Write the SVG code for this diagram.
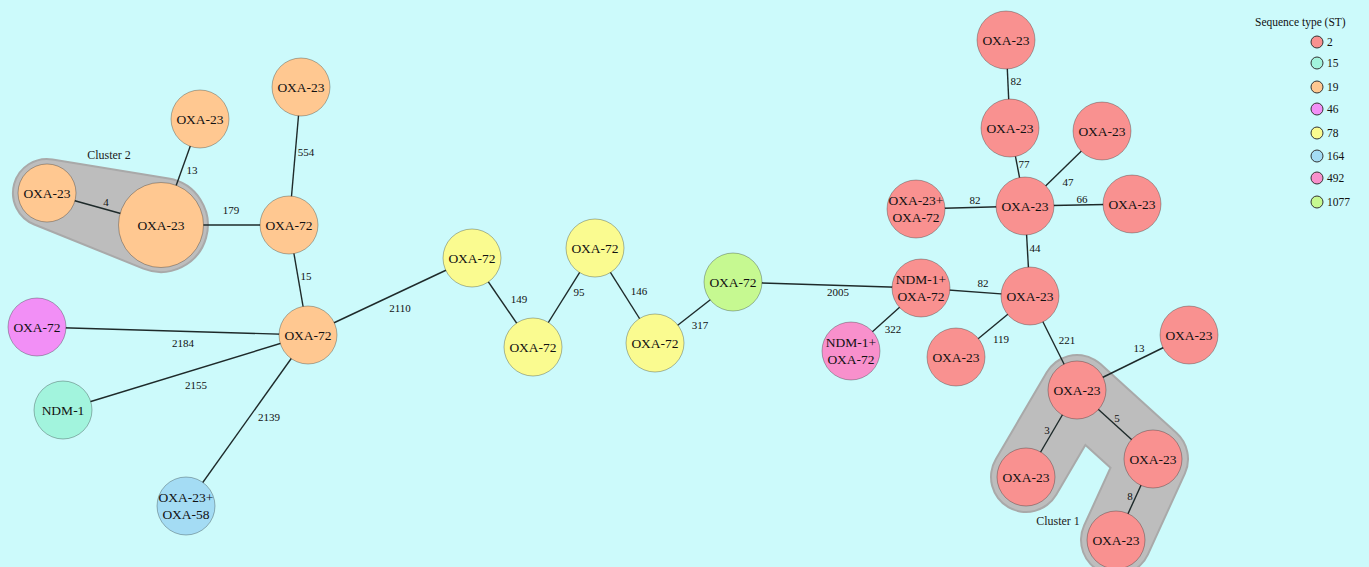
<svg xmlns="http://www.w3.org/2000/svg" width="1369" height="567" viewBox="0 0 1369 567">
<style>
  .bg{fill:#ccfafb}
  .hull{fill:#bdbdbd;stroke:#a9a9a9;stroke-width:2}
  .edge{stroke:#1e2a2a;stroke-width:1.4;fill:none}
  .n{stroke:#000;stroke-opacity:.28;stroke-width:1}
  .st2{fill:#f99190}
  .st15{fill:#a2f4dd}
  .st19{fill:#ffc891}
  .st46{fill:#f28ff6}
  .st78{fill:#fafb90}
  .st164{fill:#a4dcf4}
  .st492{fill:#f890cc}
  .st1077{fill:#c6f991}
  .lbl{font-family:"Liberation Serif","Times New Roman",serif;font-size:13.5px;fill:#111;text-anchor:middle}
  .w{font-family:"Liberation Serif","Times New Roman",serif;font-size:11px;fill:#111;text-anchor:middle}
  .cl{font-family:"Liberation Serif","Times New Roman",serif;font-size:12px;fill:#222;text-anchor:middle}
  .lg{font-family:"Liberation Serif","Times New Roman",serif;font-size:11.5px;fill:#111}
  .lc{stroke:#333;stroke-width:1}
</style>
<rect class="bg" x="0" y="0" width="1369" height="567"/>

<!-- cluster outlines -->
<g id="cluster2">
  <path class="hull" d="M52.5,159.4 L168.6,178.6 A47,47 0 1 1 143.4,268.6 L34.3,224.5 A34,34 0 0 1 52.5,159.4 Z"/>
  <text class="cl" x="109" y="159">Cluster 2</text>
</g>
<g id="cluster1">
  <polyline points="1026,477 1077,390 1153,459 1116,540" fill="none" stroke="#a9a9a9" stroke-width="72" stroke-linejoin="round" stroke-linecap="round"/>
  <polyline points="1026,477 1077,390 1153,459 1116,540" fill="none" stroke="#bdbdbd" stroke-width="68" stroke-linejoin="round" stroke-linecap="round"/>
  <text class="cl" x="1058" y="525">Cluster 1</text>
</g>

<!-- connectors with distance labels -->
<g id="edges">
  <line class="edge" x1="200" y1="119" x2="162" y2="225"/><text class="w" x="192" y="174">13</text>
  <line class="edge" x1="47" y1="193" x2="162" y2="225"/><text class="w" x="106" y="206">4</text>
  <line class="edge" x1="162" y1="225" x2="289" y2="225"/><text class="w" x="231" y="214">179</text>
  <line class="edge" x1="301" y1="87" x2="289" y2="225"/><text class="w" x="306" y="156">554</text>
  <line class="edge" x1="289" y1="225" x2="308" y2="335"/><text class="w" x="306" y="280">15</text>
  <line class="edge" x1="308" y1="335" x2="472" y2="258"/><text class="w" x="400" y="312">2110</text>
  <line class="edge" x1="37" y1="327" x2="308" y2="335"/><text class="w" x="183" y="347">2184</text>
  <line class="edge" x1="63" y1="410" x2="308" y2="335"/><text class="w" x="196" y="389">2155</text>
  <line class="edge" x1="186" y1="506" x2="308" y2="335"/><text class="w" x="269" y="421">2139</text>
  <line class="edge" x1="472" y1="258" x2="533" y2="347"/><text class="w" x="519" y="303">149</text>
  <line class="edge" x1="533" y1="347" x2="595" y2="248"/><text class="w" x="579" y="296">95</text>
  <line class="edge" x1="595" y1="248" x2="655" y2="343"/><text class="w" x="639" y="295">146</text>
  <line class="edge" x1="655" y1="343" x2="733" y2="282"/><text class="w" x="700" y="329">317</text>
  <line class="edge" x1="733" y1="282" x2="921" y2="288"/><text class="w" x="838" y="296">2005</text>
  <line class="edge" x1="921" y1="288" x2="851" y2="351"/><text class="w" x="893" y="333">322</text>
  <line class="edge" x1="921" y1="288" x2="1030" y2="296"/><text class="w" x="983" y="287">82</text>
  <line class="edge" x1="916" y1="209" x2="1025" y2="206"/><text class="w" x="975" y="204">82</text>
  <line class="edge" x1="1006" y1="40" x2="1010" y2="128"/><text class="w" x="1016" y="85">82</text>
  <line class="edge" x1="1010" y1="128" x2="1025" y2="206"/><text class="w" x="1024" y="168">77</text>
  <line class="edge" x1="1102" y1="131" x2="1025" y2="206"/><text class="w" x="1068" y="186">47</text>
  <line class="edge" x1="1025" y1="206" x2="1132" y2="204"/><text class="w" x="1082" y="203">66</text>
  <line class="edge" x1="1025" y1="206" x2="1030" y2="296"/><text class="w" x="1035" y="252">44</text>
  <line class="edge" x1="1030" y1="296" x2="956" y2="357"/><text class="w" x="1001" y="343">119</text>
  <line class="edge" x1="1030" y1="296" x2="1077" y2="390"/><text class="w" x="1067" y="344">221</text>
  <line class="edge" x1="1077" y1="390" x2="1189" y2="335"/><text class="w" x="1139" y="352">13</text>
  <line class="edge" x1="1077" y1="390" x2="1026" y2="477"/><text class="w" x="1047" y="434">3</text>
  <line class="edge" x1="1077" y1="390" x2="1153" y2="459"/><text class="w" x="1117" y="422">5</text>
  <line class="edge" x1="1153" y1="459" x2="1116" y2="540"/><text class="w" x="1130" y="500">8</text>
</g>

<!-- ST19 -->
<g id="n1"><circle class="n st19" cx="200" cy="119" r="29"/><text class="lbl" x="200" y="124">OXA-23</text></g>
<g id="n2"><circle class="n st19" cx="301" cy="87" r="29"/><text class="lbl" x="301" y="92">OXA-23</text></g>
<g id="n3"><circle class="n st19" cx="47" cy="193" r="29"/><text class="lbl" x="47" y="198">OXA-23</text></g>
<g id="n4"><circle class="n st19" cx="161" cy="225" r="42.5"/><text class="lbl" x="161" y="230">OXA-23</text></g>
<g id="n5"><circle class="n st19" cx="289" cy="225" r="29"/><text class="lbl" x="289" y="230">OXA-72</text></g>
<g id="n6"><circle class="n st19" cx="308" cy="335" r="29"/><text class="lbl" x="308" y="340">OXA-72</text></g>
<!-- ST46, ST15, ST164 -->
<g id="n7"><circle class="n st46" cx="37" cy="327" r="29"/><text class="lbl" x="37" y="332">OXA-72</text></g>
<g id="n8"><circle class="n st15" cx="63" cy="410" r="29"/><text class="lbl" x="63" y="415">NDM-1</text></g>
<g id="n9"><circle class="n st164" cx="186" cy="506" r="29"/><text class="lbl" x="186" y="502">OXA-23+</text><text class="lbl" x="186" y="519">OXA-58</text></g>
<!-- ST78 -->
<g id="n10"><circle class="n st78" cx="472" cy="258" r="29"/><text class="lbl" x="472" y="263">OXA-72</text></g>
<g id="n11"><circle class="n st78" cx="533" cy="347" r="29"/><text class="lbl" x="533" y="352">OXA-72</text></g>
<g id="n12"><circle class="n st78" cx="595" cy="248" r="29"/><text class="lbl" x="595" y="253">OXA-72</text></g>
<g id="n13"><circle class="n st78" cx="655" cy="343" r="29"/><text class="lbl" x="655" y="348">OXA-72</text></g>
<!-- ST1077, ST492 -->
<g id="n14"><circle class="n st1077" cx="733" cy="282" r="29"/><text class="lbl" x="733" y="287">OXA-72</text></g>
<g id="n15"><circle class="n st492" cx="851" cy="351" r="29"/><text class="lbl" x="851" y="347">NDM-1+</text><text class="lbl" x="851" y="364">OXA-72</text></g>
<!-- ST2 -->
<g id="n16"><circle class="n st2" cx="921" cy="288" r="29"/><text class="lbl" x="921" y="284">NDM-1+</text><text class="lbl" x="921" y="301">OXA-72</text></g>
<g id="n17"><circle class="n st2" cx="1006" cy="40" r="29"/><text class="lbl" x="1006" y="45">OXA-23</text></g>
<g id="n18"><circle class="n st2" cx="1010" cy="128" r="29"/><text class="lbl" x="1010" y="133">OXA-23</text></g>
<g id="n19"><circle class="n st2" cx="1102" cy="131" r="29"/><text class="lbl" x="1102" y="136">OXA-23</text></g>
<g id="n20"><circle class="n st2" cx="916" cy="209" r="29"/><text class="lbl" x="916" y="205">OXA-23+</text><text class="lbl" x="916" y="222">OXA-72</text></g>
<g id="n21"><circle class="n st2" cx="1025" cy="206" r="29"/><text class="lbl" x="1025" y="211">OXA-23</text></g>
<g id="n22"><circle class="n st2" cx="1132" cy="204" r="29"/><text class="lbl" x="1132" y="209">OXA-23</text></g>
<g id="n23"><circle class="n st2" cx="1030" cy="296" r="29"/><text class="lbl" x="1030" y="301">OXA-23</text></g>
<g id="n24"><circle class="n st2" cx="956" cy="357" r="29"/><text class="lbl" x="956" y="362">OXA-23</text></g>
<g id="n25"><circle class="n st2" cx="1189" cy="335" r="29"/><text class="lbl" x="1189" y="340">OXA-23</text></g>
<g id="n26"><circle class="n st2" cx="1077" cy="390" r="29"/><text class="lbl" x="1077" y="395">OXA-23</text></g>
<g id="n27"><circle class="n st2" cx="1026" cy="477" r="29"/><text class="lbl" x="1026" y="482">OXA-23</text></g>
<g id="n28"><circle class="n st2" cx="1153" cy="459" r="29"/><text class="lbl" x="1153" y="464">OXA-23</text></g>
<g id="n29"><circle class="n st2" cx="1116" cy="540" r="29"/><text class="lbl" x="1116" y="545">OXA-23</text></g>

<!-- legend -->
<g id="legend">
  <text class="lg" x="1255" y="26">Sequence type (ST)</text>
  <circle class="lc st2" cx="1317" cy="42" r="6"/><text class="lg" x="1327" y="46">2</text>
  <circle class="lc st15" cx="1317" cy="63" r="6"/><text class="lg" x="1327" y="67">15</text>
  <circle class="lc st19" cx="1317" cy="87" r="6"/><text class="lg" x="1327" y="91">19</text>
  <circle class="lc st46" cx="1317" cy="109" r="6"/><text class="lg" x="1327" y="113">46</text>
  <circle class="lc st78" cx="1317" cy="133" r="6"/><text class="lg" x="1327" y="137">78</text>
  <circle class="lc st164" cx="1317" cy="156" r="6"/><text class="lg" x="1327" y="160">164</text>
  <circle class="lc st492" cx="1317" cy="178" r="6"/><text class="lg" x="1327" y="182">492</text>
  <circle class="lc st1077" cx="1317" cy="202" r="6"/><text class="lg" x="1327" y="206">1077</text>
</g>
</svg>
